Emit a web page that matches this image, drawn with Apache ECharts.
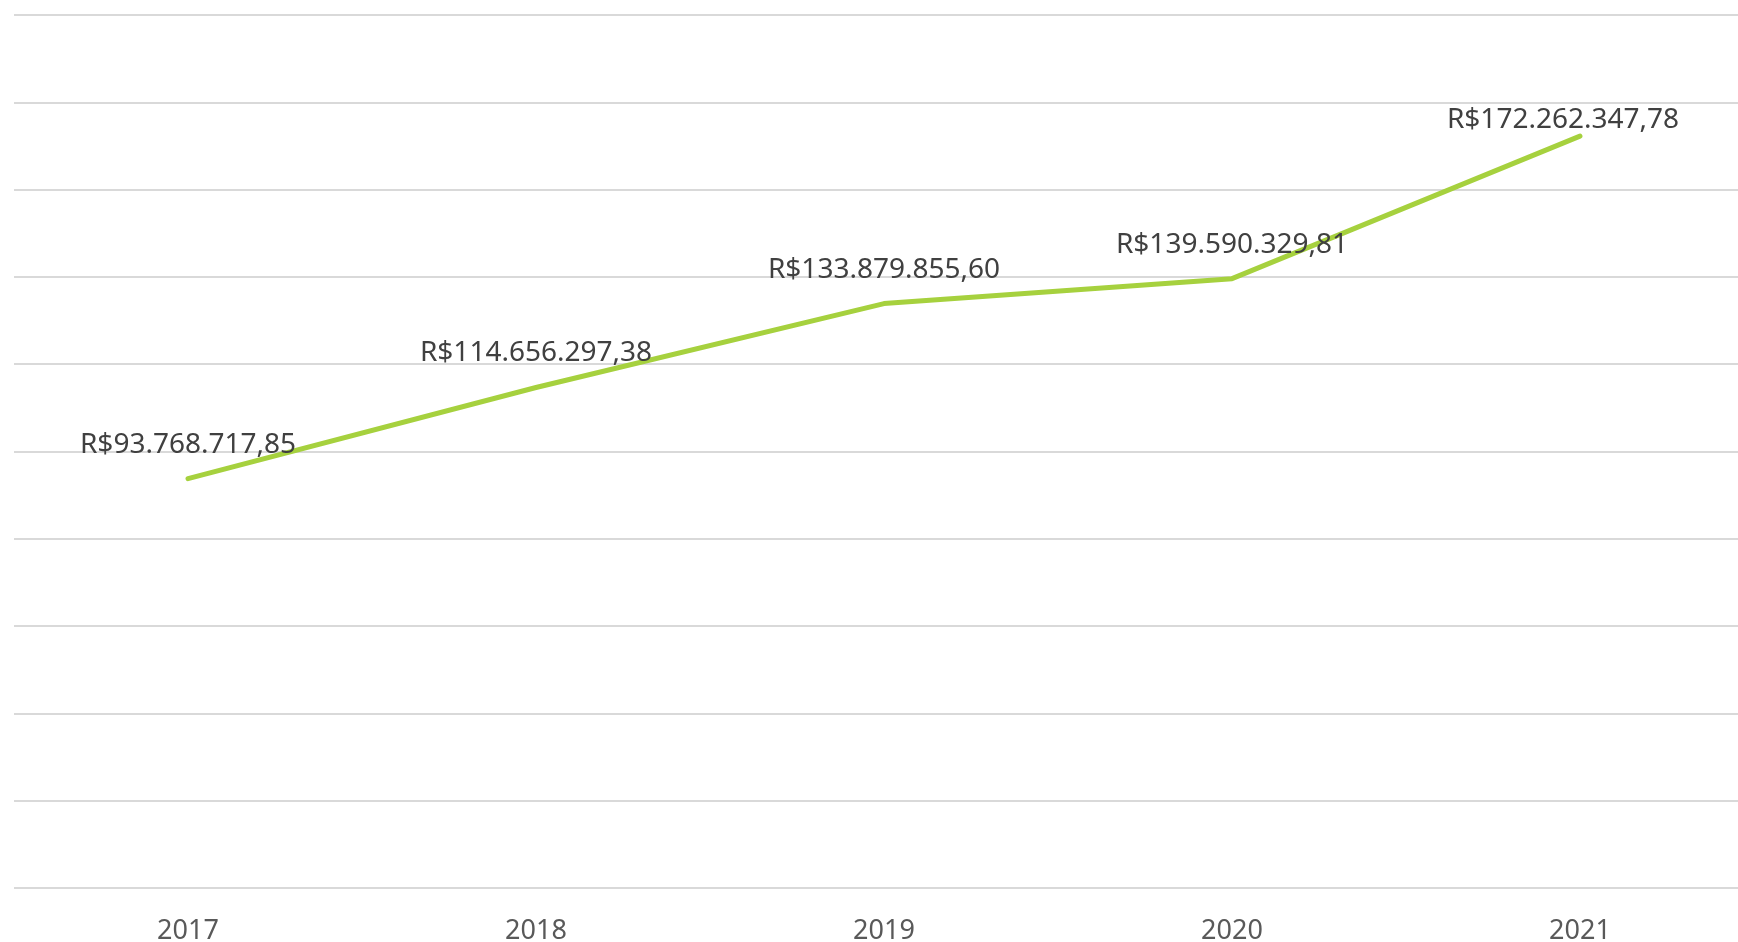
<!doctype html>
<html>
<head>
<meta charset="UTF-8">
<title>Faturamento anual</title>
<script src="https://cdn.jsdelivr.net/npm/echarts@6/dist/echarts.min.js"></script>
<style>
  html, body { margin: 0; padding: 0; background: #fff; }
  #main { width: 1738px; height: 942px; }
</style>
</head>
<body>
<div id="main"></div>
<script>
// dados
var anos = ['2017', '2018', '2019', '2020', '2021'];
var valores = [93768717.85, 114656297.38, 133879855.60, 139590329.81, 172262347.78];
var yMin = 0, yMax = 200000000, yStep = 20000000;

function formatBRL(v) {
  var parts = v.toFixed(2).split('.');
  var inteiro = parts[0].replace(/\B(?=(\d{3})+(?!\d))/g, '.');
  return 'R$' + inteiro + ',' + parts[1];
}

var chart = echarts.init(document.getElementById('main'));

var serieData = valores.map(function (v, i) {
  var item = { value: v };
  // ultimo rotulo fica mais perto da linha (como no original)
  if (i === valores.length - 1) {
    item.label = { distance: 1, offset: [-17, 0] };
  }
  return item;
});

var option = {
  animation: false,
  // grid 0 = linhas de grade em toda a largura, grid 1 = a linha em si
  grid: [
    { left: 14, right: 0, top: 15, height: 873, outerBoundsMode: 'none' },
    { left: 188, right: 158, top: 15, height: 873, outerBoundsMode: 'none' }
  ],
  xAxis: [{
    gridIndex: 0,
    type: 'category',
    data: anos,
    show: false
  }, {
    gridIndex: 1,
    type: 'category',
    data: anos,
    boundaryGap: false,
    axisLine: { show: false },
    axisTick: { show: false },
    splitLine: { show: false },
    axisLabel: {
      margin: 30,
      color: '#595959',
      fontFamily: 'Noto Sans',
      fontSize: 27
    }
  }],
  yAxis: [{
    gridIndex: 0,
    type: 'value',
    min: yMin,
    max: yMax,
    interval: yStep,
    axisLine: { show: false },
    axisTick: { show: false },
    axisLabel: { show: false },
    splitLine: { lineStyle: { color: '#d9d9d9', width: 2 } }
  }, {
    gridIndex: 1,
    type: 'value',
    min: yMin,
    max: yMax,
    interval: yStep,
    show: false,
    splitLine: { show: false }
  }],
  series: [{
    type: 'line',
    xAxisIndex: 1,
    yAxisIndex: 1,
    data: serieData,
    symbol: 'circle',
    symbolSize: 2,
    itemStyle: { color: 'rgba(0,0,0,0)', borderWidth: 0 },
    lineStyle: { color: '#a6d13e', width: 5, cap: 'round', join: 'round' },
    label: {
      show: true,
      position: 'top',
      distance: 19,
      color: '#404040',
      fontFamily: 'Noto Sans',
      fontSize: 28,
      formatter: function (p) { return formatBRL(p.value); }
    }
  }]
};

chart.setOption(option);
</script>
</body>
</html>
